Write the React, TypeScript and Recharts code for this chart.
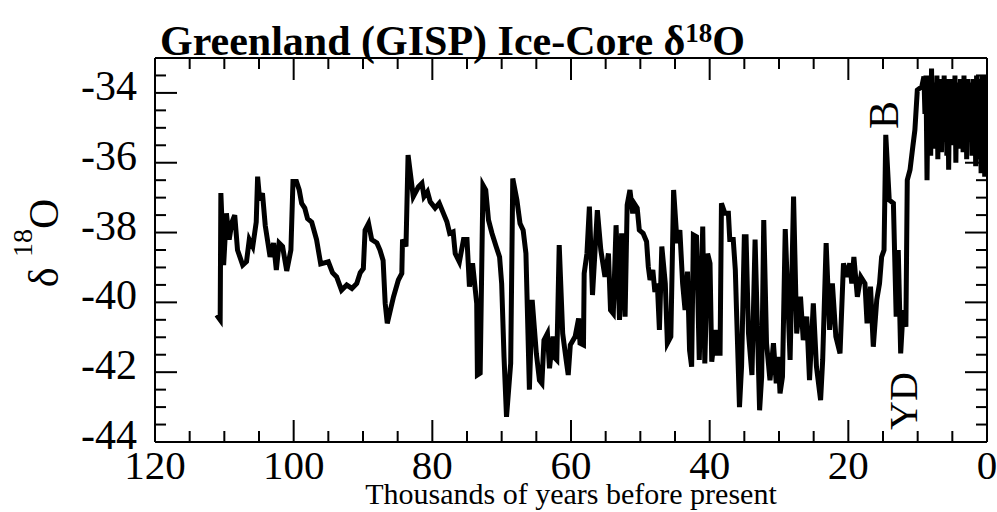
import React from 'react';
import { LineChart, Line, XAxis, YAxis } from 'recharts';

// Age (thousands of years before present)
const ages: number[] = [
  111.1, 110.6, 110.5, 110.1, 109.7, 109.3, 108.9, 108.5, 108.1, 107.35,
  106.8, 106.4, 105.9, 105.4, 105.2, 104.9, 104.5, 104.1, 103.4, 102.9,
  102.5, 102.1, 101.6, 101.0, 100.4, 100.1, 99.6, 99.2, 98.85, 98.4,
  98.0, 97.4, 96.7, 96.1, 95.0, 94.4, 93.8, 93.1, 92.35, 91.6,
  90.9, 90.4, 89.95, 89.7, 89.2, 88.75, 88.0, 87.55, 87.1, 86.8,
  86.5, 85.6, 84.9, 84.4, 84.3, 83.8, 83.5, 82.75, 82.0, 81.5,
  81.2, 80.7, 80.3, 79.6, 79.0, 78.4, 77.9, 77.5, 77.0, 76.7,
  76.1, 75.5, 75.0, 74.65, 74.2, 73.6, 73.5, 73.1, 72.7, 72.3,
  71.9, 71.4, 70.8, 70.3, 70.0, 69.66, 69.3, 68.7, 68.4, 67.8,
  67.35, 66.9, 66.5, 66.0, 65.6, 65.0, 64.55, 64.2, 63.9, 63.4,
  63.1, 62.6, 62.3, 62.05, 61.7, 61.2, 60.7, 60.4, 60.1, 59.4,
  58.9, 58.7, 58.2, 58.1, 57.7, 57.35, 56.9, 56.2, 55.7, 55.1,
  54.6, 54.3, 53.9, 53.5, 53.0, 52.7, 52.2, 51.9, 51.5, 51.1,
  50.9, 50.45, 50.15, 49.6, 49.1, 48.85, 48.6, 48.2, 47.9, 47.55,
  47.25, 46.9, 46.4, 46.1, 45.6, 45.2, 44.7, 44.3, 43.9, 43.55,
  43.2, 42.9, 42.6, 42.35, 41.9, 41.5, 41.0, 40.7, 40.3, 39.95,
  39.7, 39.2, 38.9, 38.5, 38.3, 37.8, 37.3, 37.1, 36.6, 36.3,
  36.1, 35.7, 35.4, 35.0, 34.75, 34.4, 33.9, 33.45, 32.8, 32.5,
  32.2, 31.8, 31.3, 30.8, 30.4, 30.1, 29.85, 29.5, 29.1, 28.4,
  27.9, 27.45, 26.9, 26.5, 26.0, 25.6, 25.05, 24.6, 24.0, 23.7,
  23.2, 22.7, 22.3, 21.8, 21.2, 20.7, 20.2, 19.8, 19.5, 19.2,
  18.7, 18.2, 17.6, 17.3, 16.8, 16.4, 15.9, 15.5, 15.2, 14.85,
  14.6, 14.1, 13.5, 13.1, 12.8, 12.45, 12.1, 11.7, 11.5, 11.1,
  10.7, 10.4, 10.05, 9.4, 9.1,
  8.95, 8.8, 8.65, 8.5, 8.38, 8.25, 8.12, 8.0, 7.87, 7.74,
  7.61, 7.48, 7.35, 7.22, 7.09, 6.96, 6.83, 6.7, 6.57, 6.44,
  6.31, 6.18, 6.05, 5.92, 5.79, 5.66, 5.53, 5.4, 5.27, 5.14,
  5.01, 4.88, 4.75, 4.62, 4.49, 4.36, 4.23, 4.1, 3.97, 3.84,
  3.71, 3.58, 3.45, 3.32, 3.19, 3.06, 2.93, 2.8, 2.67, 2.54,
  2.41, 2.28, 2.15, 2.02, 1.89, 1.76, 1.63, 1.5, 1.37, 1.24,
  1.11, 0.98, 0.85, 0.72, 0.59, 0.46, 0.33, 0.2, 0.08,
];

// delta 18O (per mil)
const d18O: number[] = [
  -40.36, -40.5, -36.87, -38.93, -37.45, -38.2, -37.7, -37.5, -38.5, -38.93,
  -38.83, -38.2, -38.4, -37.7, -36.4, -37.07, -36.87, -37.8, -38.7, -38.3,
  -39.07, -38.3, -38.4, -39.1, -38.5, -36.54, -36.54, -36.78, -37.16, -37.3,
  -37.6, -37.7, -38.2, -38.9, -38.84, -39.15, -39.27, -39.65, -39.5, -39.6,
  -39.46, -39.15, -39.03, -37.93, -37.74, -38.2, -38.3, -38.5, -38.8, -40.03,
  -40.6, -39.84, -39.36, -39.17, -38.2, -38.4, -35.78, -36.97, -36.69, -36.59,
  -36.97, -36.83, -37.12, -37.3, -37.16, -37.45, -37.69, -38.02, -37.98, -38.6,
  -38.84, -38.2, -38.2, -39.55, -38.88, -40.03, -42.08, -42.03, -36.64, -36.78,
  -37.64, -38.02, -38.4, -38.7, -39.46, -41.56, -43.28, -41.75, -36.45, -37.07,
  -37.74, -37.93, -38.6, -42.5, -39.93, -41.46, -42.23, -42.32, -41.08, -40.89,
  -41.89, -40.98, -41.6, -41.65, -38.36, -40.89, -41.65, -42.08, -41.22, -40.98,
  -40.46, -41.17, -41.22, -39.17, -38.6, -37.26, -39.79, -37.36, -38.5, -39.27,
  -38.6, -40.22, -40.32, -37.79, -40.5, -38.02, -40.41, -37.21, -36.78, -37.45,
  -37.16, -37.3, -37.93, -38.02, -38.26, -38.98, -39.36, -39.07, -39.7, -39.46,
  -40.79, -38.4, -39.46, -41.17, -40.98, -36.78, -38.3, -37.93, -39.46, -40.22,
  -39.12, -41.37, -41.84, -38.07, -38.12, -41.65, -37.83, -41.75, -38.6, -38.88,
  -41.7, -40.79, -41.46, -41.46, -37.16, -37.45, -37.45, -38.2, -38.2, -39.07,
  -40.41, -43.0, -41.84, -38.12, -38.12, -40.89, -42.08, -38.2, -43.09, -42.13,
  -37.64, -41.17, -42.23, -41.17, -42.32, -41.56, -42.61, -42.13, -37.9, -41.65,
  -36.97, -40.89, -39.84, -41.08, -40.41, -42.23, -40.03, -41.84, -42.8, -41.65,
  -38.3, -40.79, -39.46, -40.98, -41.46, -38.88, -39.27, -38.88, -39.46, -38.7,
  -39.84, -39.27, -39.46, -40.6, -39.55, -41.27, -39.93, -39.46, -38.7, -38.5,
  -35.2, -37.07, -37.16, -40.41, -38.5, -41.46, -40.22, -40.7, -36.5, -36.2,
  -35.54, -35.06, -33.92, -33.82, -33.53,
  -34.6, -33.5, -36.5, -33.8, -35.4, -33.5, -35.8, -33.3, -35.2, -33.7,
  -35.6, -33.9, -35.3, -33.5, -35.9, -33.7, -35.1, -33.6, -35.7, -34.0,
  -35.4, -33.5, -35.2, -33.8, -35.8, -33.6, -36.2, -33.9, -35.0, -33.6,
  -35.5, -33.8, -35.3, -33.5, -36.0, -33.9, -35.2, -33.7, -35.6, -33.6,
  -35.0, -33.9, -35.7, -33.5, -35.3, -33.8, -35.9, -33.6, -35.4, -34.0,
  -35.2, -33.7, -35.8, -33.6, -35.1, -33.9, -36.1, -33.5, -35.4, -33.8,
  -35.9, -33.6, -36.3, -33.5, -35.7, -33.9, -36.4, -33.5, -36.0,
];

const xTicks: number[] = [
  0, 5, 10, 15, 20, 25, 30, 35, 40, 45, 50, 55, 60,
  65, 70, 75, 80, 85, 90, 95, 100, 105, 110, 115, 120,
];
const xLabelValues: number[] = [0, 20, 40, 60, 80, 100, 120];
const yTicks: number[] = [
  -44, -43.5, -43, -42.5, -42, -41.5, -41, -40.5, -40, -39.5, -39,
  -38.5, -38, -37.5, -37, -36.5, -36, -35.5, -35, -34.5, -34, -33.5, -33,
];
const yLabelValues: number[] = [-44, -42, -40, -38, -36, -34];

const data = ages.map((a, i) => ({ age: a, d18O: d18O[i] }));

const FONT = '"Liberation Serif", "Times New Roman", serif';
const MAJOR = 22;
const MINOR = 11;

const BottomTick = (props: any) => {
  const { x, y, payload } = props;
  const v = payload.value;
  const major = xLabelValues.includes(v);
  return (
    <g>
      <line x1={x} y1={y} x2={x} y2={y - (major ? MAJOR : MINOR)} stroke="#000" strokeWidth={2} />
      {major && (
        <text x={x} y={y + 37} textAnchor="middle" fontFamily={FONT} fontSize={41} fill="#000">
          {v}
        </text>
      )}
    </g>
  );
};

const TopTick = (props: any) => {
  const { x, y, payload } = props;
  const major = xLabelValues.includes(payload.value);
  return <line x1={x} y1={y} x2={x} y2={y + (major ? MAJOR : MINOR)} stroke="#000" strokeWidth={2} />;
};

const LeftTick = (props: any) => {
  const { x, y, payload } = props;
  const v = payload.value;
  const major = yLabelValues.includes(v);
  return (
    <g>
      <line x1={x} y1={y} x2={x + (major ? MAJOR : MINOR)} y2={y} stroke="#000" strokeWidth={2} />
      {major && (
        <text x={x - 18} y={y + 7} textAnchor="end" fontFamily={FONT} fontSize={42} fill="#000">
          {v}
        </text>
      )}
    </g>
  );
};

const RightTick = (props: any) => {
  const { x, y, payload } = props;
  const major = yLabelValues.includes(payload.value);
  return <line x1={x} y1={y} x2={x - (major ? MAJOR : MINOR)} y2={y} stroke="#000" strokeWidth={2} />;
};

export default function App() {
  return (
    <div style={{ position: 'absolute', left: 0, top: 0, width: 997, height: 512, background: '#fff' }}>
      <LineChart width={997} height={512} data={data} margin={{ top: 0, right: 0, bottom: 0, left: 0 }}>
        <XAxis
          xAxisId="bottom"
          dataKey="age"
          type="number"
          domain={[0, 120]}
          allowDataOverflow
          reversed
          ticks={xTicks}
          interval={0}
          orientation="bottom"
          height={70}
          tickSize={0}
          tickMargin={0}
          tick={<BottomTick />}
          axisLine={{ stroke: '#000', strokeWidth: 2 }}
        />
        <XAxis
          xAxisId="top"
          dataKey="age"
          type="number"
          domain={[0, 120]}
          allowDataOverflow
          reversed
          ticks={xTicks}
          interval={0}
          orientation="top"
          height={58}
          tickSize={0}
          tickMargin={0}
          tick={<TopTick />}
          axisLine={{ stroke: '#000', strokeWidth: 2 }}
        />
        <YAxis
          yAxisId="left"
          type="number"
          domain={[-44, -33]}
          allowDataOverflow
          ticks={yTicks}
          interval={0}
          orientation="left"
          width={155}
          tickSize={0}
          tickMargin={0}
          tick={<LeftTick />}
          axisLine={{ stroke: '#000', strokeWidth: 2 }}
        />
        <YAxis
          yAxisId="right"
          type="number"
          domain={[-44, -33]}
          allowDataOverflow
          ticks={yTicks}
          interval={0}
          orientation="right"
          width={10}
          tickSize={0}
          tickMargin={0}
          tick={<RightTick />}
          axisLine={{ stroke: '#000', strokeWidth: 2 }}
        />
        <Line
          xAxisId="bottom"
          yAxisId="left"
          type="linear"
          dataKey="d18O"
          stroke="#000"
          strokeWidth={5}
          dot={false}
          isAnimationActive={false}
        />
      </LineChart>
      <svg
        width={997}
        height={512}
        style={{ position: 'absolute', left: 0, top: 0, pointerEvents: 'none' }}
      >
        <text x={160} y={55} fontFamily={FONT} fontWeight="bold" fontSize={42} fill="#000">
          Greenland (GISP) Ice-Core δ
          <tspan dy={-13} fontSize={27}>18</tspan>
          <tspan dy={13} fontSize={42}>O</tspan>
        </text>
        <text
          transform="translate(58,243) rotate(-90)"
          textAnchor="middle"
          fontFamily={FONT}
          fontSize={42}
          fill="#000"
        >
          δ <tspan dy={-26} fontSize={28}>18</tspan>
          <tspan dy={26} fontSize={42}>O</tspan>
        </text>
        <text x={571} y={504} textAnchor="middle" fontFamily={FONT} fontSize={30} fill="#000">
          Thousands of years before present
        </text>
        <text transform="translate(898,115) rotate(-90)" textAnchor="middle" fontFamily={FONT} fontSize={42} fill="#000">
          B
        </text>
        <text transform="translate(917,401) rotate(-90)" textAnchor="middle" fontFamily={FONT} fontSize={40} fill="#000">
          YD
        </text>
      </svg>
    </div>
  );
}
